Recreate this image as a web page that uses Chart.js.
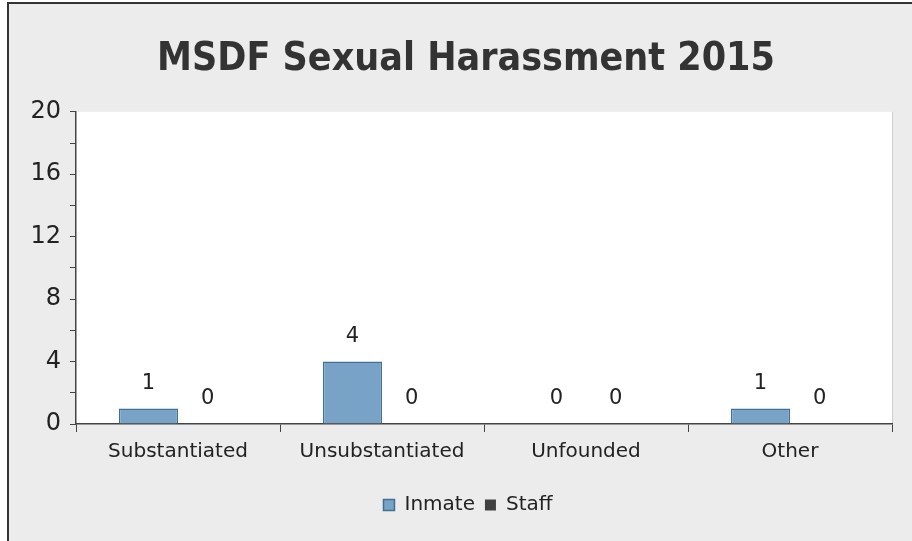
<!DOCTYPE html>
<html lang="en">
<head>
  <meta charset="UTF-8">
  <title>MSDF Sexual Harassment 2015</title>
  <style>
    html, body { margin: 0; padding: 0; background: #fff; }
    #wrap { width: 912px; height: 541px; }
  </style>
</head>
<body>
  <div id="wrap"><canvas id="chart" width="912" height="541"></canvas></div>

  <script src="https://cdn.jsdelivr.net/npm/chart.js"></script>
  <script>
    const categories = ["Substantiated", "Unsubstantiated", "Unfounded", "Other"];
    const inmate = [1, 4, 0, 1];
    const staff = [0, 0, 0, 0];
    const yTickLabels = [0, 4, 8, 12, 16, 20];

    const FONT = "'DejaVu Sans', sans-serif";

    // gray panel, white plot area, value labels over the bars
    const panel = {
      id: 'panel',
      afterLayout(chart) {
        // title and legend sit a little right of the canvas centre
        chart.titleBlock.left += 20;
        chart.titleBlock.right += 20;
        chart.legend.left += 22;
        chart.legend.right += 22;
      },
      beforeDraw(chart) {
        const { ctx, chartArea: a } = chart;
        ctx.save();
        ctx.fillStyle = '#ffffff';
        ctx.fillRect(0, 0, chart.width, chart.height);
        ctx.fillStyle = '#ececec';
        ctx.fillRect(8, 3, chart.width, chart.height);
        ctx.strokeStyle = '#333';
        ctx.lineWidth = 2;
        ctx.beginPath();
        ctx.moveTo(8, chart.height);
        ctx.lineTo(8, 3);
        ctx.lineTo(chart.width, 3);
        ctx.stroke();
        ctx.fillStyle = '#ffffff';
        ctx.fillRect(a.left, a.top, a.right - a.left, a.bottom - a.top);
        ctx.strokeStyle = '#cfcfcf';
        ctx.lineWidth = 1;
        ctx.beginPath();
        ctx.moveTo(a.right + 0.5, a.top);
        ctx.lineTo(a.right + 0.5, a.bottom);
        ctx.stroke();
        ctx.restore();
      },
      afterDatasetsDraw(chart) {
        const { ctx } = chart;
        ctx.save();
        ctx.font = "21px " + FONT;
        ctx.fillStyle = '#222';
        ctx.textAlign = 'center';
        ctx.textBaseline = 'middle';
        chart.data.datasets.forEach((ds, i) => {
          chart.getDatasetMeta(i).data.forEach((el, j) => {
            ctx.fillText(String(ds.data[j]), el.x, el.y - 25);
          });
        });
        ctx.restore();
      }
    };

    new Chart(document.getElementById('chart'), {
      type: 'bar',
      data: {
        labels: categories,
        datasets: [
          {
            label: 'Inmate',
            data: inmate,
            backgroundColor: '#78a2c6',
            borderColor: '#436f92',
            borderWidth: 1.5
          },
          {
            label: 'Staff',
            data: staff,
            backgroundColor: '#404040',
            borderColor: '#333',
            borderWidth: 0
          }
        ]
      },
      plugins: [panel],
      options: {
        responsive: false,
        animation: false,
        categoryPercentage: 0.58,
        barPercentage: 1.0,
        layout: { padding: { left: 0, right: 20, top: 0, bottom: 16 } },
        plugins: {
          title: {
            display: true,
            text: 'MSDF Sexual Harassment 2015',
            color: '#333',
            font: { family: "'DejaVu Sans Condensed', 'DejaVu Sans', sans-serif", size: 39, weight: 'bold' },
            padding: { top: 36, bottom: 29 }
          },
          legend: {
            position: 'bottom',
            labels: {
              color: '#222',
              font: { family: FONT, size: 20 },
              boxWidth: 11,
              boxHeight: 11,
              padding: 10
            }
          },
          tooltip: { enabled: false }
        },
        scales: {
          x: {
            offset: true,
            grid: {
              offset: true,
              drawOnChartArea: false,
              drawTicks: true,
              tickLength: 8,
              color: '#444'
            },
            border: { color: '#444', width: 1.5 },
            ticks: {
              color: '#222',
              font: { family: FONT, size: 20 },
              padding: 8,
              maxRotation: 0
            },
            afterFit(scale) { scale.height = 61; }
          },
          y: {
            min: 0,
            max: 20,
            grid: {
              drawOnChartArea: false,
              drawTicks: true,
              tickLength: 6,
              color: '#444'
            },
            border: { color: '#444', width: 1.5 },
            ticks: {
              stepSize: 2,
              autoSkip: false,
              color: '#222',
              font: { family: FONT, size: 24 },
              padding: 9,
              callback: v => yTickLabels.includes(v) ? String(v) : ''
            },
            afterFit(scale) { scale.width = 76; }
          }
        }
      }
    });
  </script>
</body>
</html>
